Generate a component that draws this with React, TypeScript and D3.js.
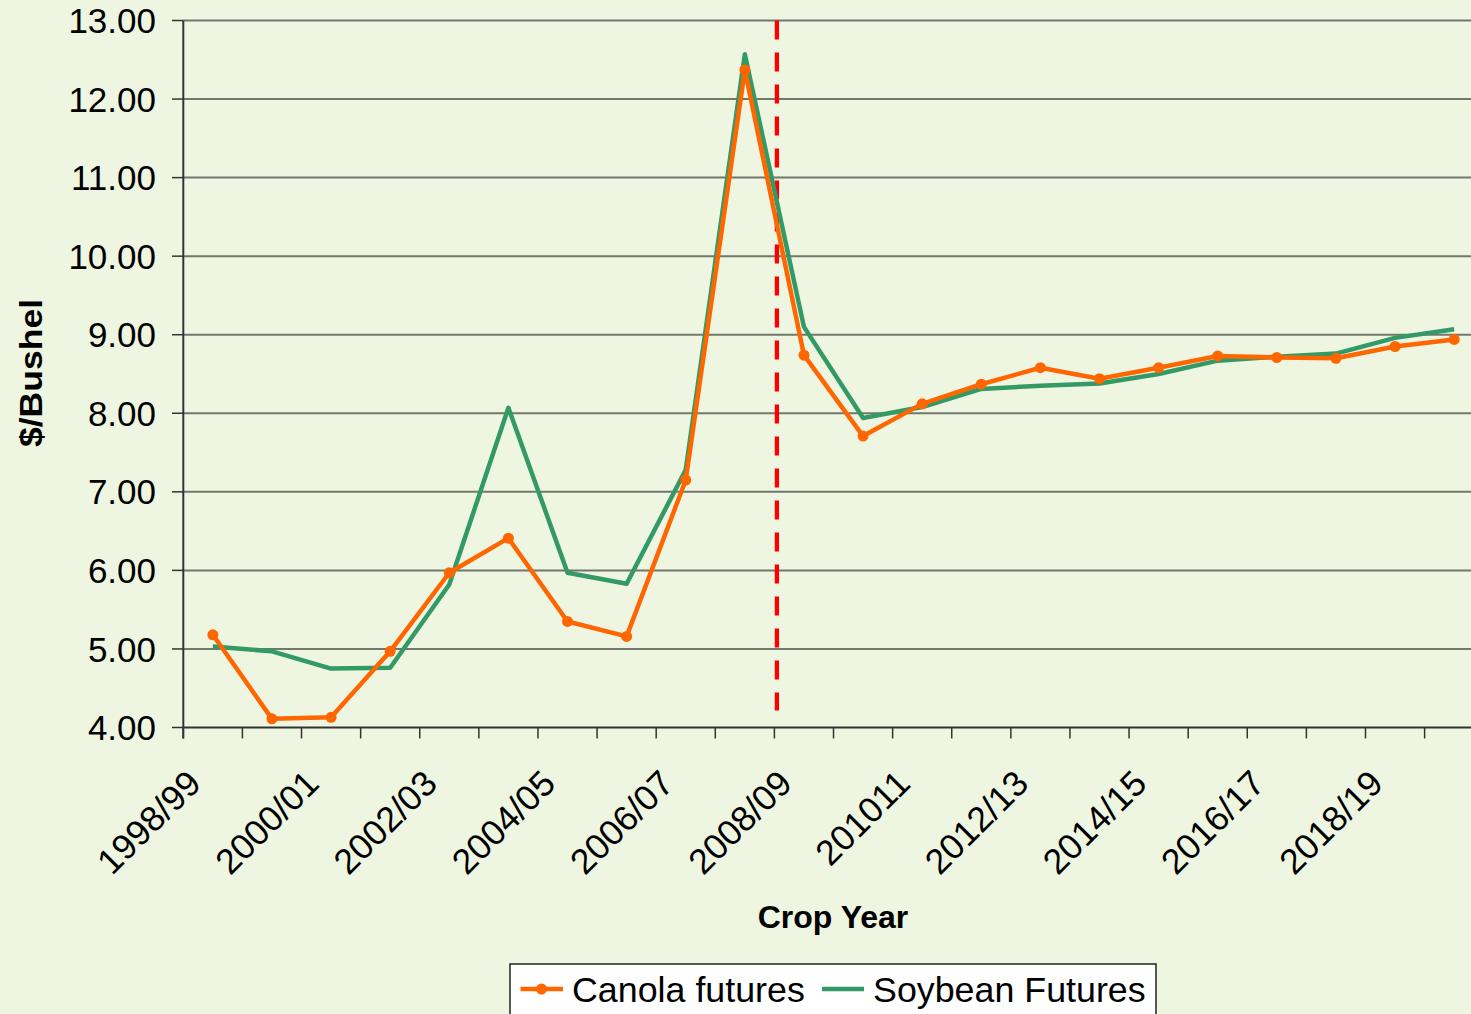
import * as d3 from "d3";

// ─── Data ─────────────────────────────────────────────────────────────────────

const YEARS = [
  "1998/99", "1999/00", "2000/01", "2001/02", "2002/03", "2003/04",
  "2004/05", "2005/06", "2006/07", "2007/08", "2008/09", "2009/10",
  "201011", "2011/12", "2012/13", "2013/14", "2014/15", "2015/16",
  "2016/17", "2017/18", "2018/19", "2019/20",
];

const CANOLA = [
  5.18, 4.11, 4.13, 4.97, 5.97, 6.41, 5.35, 5.16, 7.15, 12.37, 8.74,
  7.71, 8.12, 8.37, 8.58, 8.44, 8.58, 8.73, 8.71, 8.7, 8.85, 8.94,
];

const SOYBEAN = [
  5.03, 4.97, 4.75, 4.76, 5.82, 8.07, 5.97, 5.83, 7.28, 12.57, 9.1,
  7.94, 8.08, 8.31, 8.35, 8.38, 8.5, 8.67, 8.72, 8.76, 8.96, 9.07,
];

const Y_TICKS = [4, 5, 6, 7, 8, 9, 10, 11, 12, 13];
const DIVIDER_YEAR = "2008/09";

// ─── Style ────────────────────────────────────────────────────────────────────

const W = 1471;
const H = 1014;
const BG = "#EEF6E2";
const ORANGE = "#FF6600";
const GREEN = "#339966";
const GRID = "#72776c";
const AXIS = "#333333";
const FONT = "'Liberation Sans', Arial, sans-serif";

const x = d3
  .scaleBand<string>()
  .domain(YEARS)
  .range([183.3, 183.3 + YEARS.length * 59.11]);
const y = d3.scaleLinear().domain([4, 13]).range([727.5, 20.5]);
const cx = (yr: string) => x(yr)! + x.bandwidth() / 2;

const line = d3
  .line<number>()
  .x((_, i) => cx(YEARS[i]))
  .y((d) => y(d));

export default function App() {
  const [x0, x1] = x.range();
  const [yb, yt] = y.range();
  const divX = x(DIVIDER_YEAR)! + 2.5;

  return (
    <div style={{ position: "absolute", left: 0, top: 0 }}>
      <svg width={W} height={H} style={{ display: "block", fontFamily: FONT }}>
        <rect width={W} height={H} fill={BG} />

        {/* gridlines */}
        {Y_TICKS.filter((t) => t > 4).map((t) => (
          <line key={t} x1={x0} x2={x1} y1={y(t)} y2={y(t)} stroke={GRID} strokeWidth={2} />
        ))}

        {/* y ticks + labels */}
        {Y_TICKS.map((t) => (
          <g key={t}>
            <line x1={172} x2={x0} y1={y(t)} y2={y(t)} stroke={AXIS} strokeWidth={1.5} />
            <text x={156} y={y(t)} dy="0.36em" textAnchor="end" fontSize={35} fill="#000">
              {t.toFixed(2)}
            </text>
          </g>
        ))}

        {/* x ticks at band boundaries */}
        {d3.range(YEARS.length + 1).map((i) => {
          const tx = x0 + i * x.step();
          return <line key={i} x1={tx} x2={tx} y1={yb} y2={yb + 11} stroke={AXIS} strokeWidth={1.5} />;
        })}

        {/* x labels, every other year */}
        {YEARS.map((yr, i) =>
          i % 2 === 0 ? (
            <text
              key={yr}
              transform={`translate(${cx(yr) - 10},${yb + 58}) rotate(-45)`}
              textAnchor="end"
              fontSize={35.5}
              fill="#000"
            >
              {yr}
            </text>
          ) : null,
        )}

        {/* axes */}
        <line x1={x0} x2={x0} y1={yt} y2={yb + 11} stroke={AXIS} strokeWidth={2} />
        <line x1={x0} x2={x1} y1={yb} y2={yb} stroke={AXIS} strokeWidth={2} />

        {/* divider */}
        <line
          x1={divX}
          x2={divX}
          y1={yt}
          y2={yb - 17}
          stroke="#FF0000"
          strokeWidth={4.3}
          strokeDasharray="19 13"
        />

        {/* series */}
        <path d={line(SOYBEAN)!} fill="none" stroke={GREEN} strokeWidth={4.5} strokeLinejoin="round" />
        <path d={line(CANOLA)!} fill="none" stroke={ORANGE} strokeWidth={4.5} strokeLinejoin="round" />
        {CANOLA.map((v, i) => (
          <circle key={i} cx={cx(YEARS[i])} cy={y(v)} r={5.5} fill={ORANGE} />
        ))}

        {/* axis titles */}
        <text x={833} y={928} textAnchor="middle" fontSize={32} fontWeight="bold">
          Crop Year
        </text>
        <text
          transform="translate(42,373) rotate(-90)"
          textAnchor="middle"
          fontSize={32}
          fontWeight="bold"
          textLength={148}
          lengthAdjust="spacingAndGlyphs"
        >
          $/Bushel
        </text>

        {/* legend */}
        <rect x={510} y={964} width={646} height={70} fill="#fff" stroke="#222" strokeWidth={1.5} />
        <line x1={520.5} x2={563} y1={989} y2={989} stroke={ORANGE} strokeWidth={4.5} />
        <circle cx={541.5} cy={989} r={5.5} fill={ORANGE} />
        <text x={572} y={1002} fontSize={35.8}>
          Canola futures
        </text>
        <line x1={822} x2={864} y1={989} y2={989} stroke={GREEN} strokeWidth={4.5} />
        <text x={873} y={1002} fontSize={35.8}>
          Soybean Futures
        </text>
      </svg>
    </div>
  );
}
